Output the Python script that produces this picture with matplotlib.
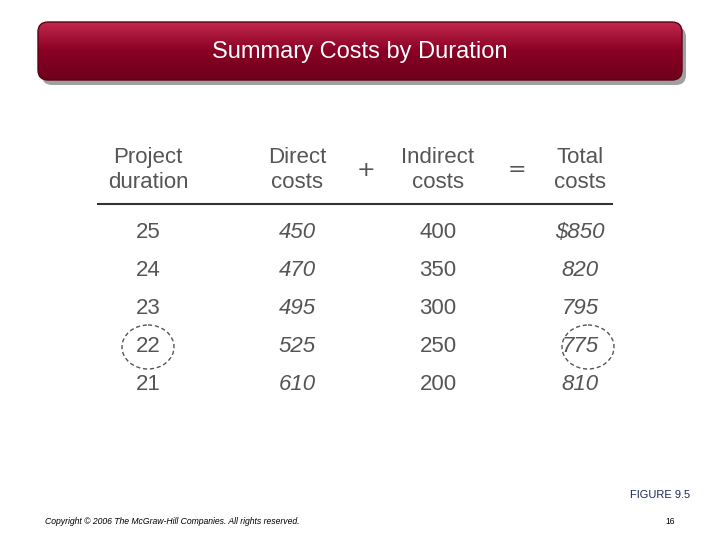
import matplotlib
matplotlib.use("Agg")
import matplotlib.pyplot as plt
from matplotlib.patches import FancyBboxPatch, Ellipse
from matplotlib.colors import LinearSegmentedColormap
import numpy as np

headers = ["Project\nduration", "Direct\ncosts", "Indirect\ncosts", "Total\ncosts"]
durations = [25, 24, 23, 22, 21]
direct = [450, 470, 495, 525, 610]
indirect = [400, 350, 300, 250, 200]
total = ["$850", "820", "795", "775", "810"]
highlight_row = 3

fig = plt.figure(figsize=(7.2, 5.4), dpi=100)
ax = fig.add_axes([0, 0, 1, 1])
ax.set_xlim(0, 720); ax.set_ylim(540, 0); ax.axis("off")

ax.add_patch(FancyBboxPatch((42, 27), 644, 58, boxstyle="round,pad=0,rounding_size=10",
                            fc="#a0a0a0", ec="none", zorder=1))
grad = np.linspace(0, 1, 100).reshape(-1, 1)
cm = LinearSegmentedColormap.from_list("r", ["#c0284a", "#8a0025", "#6e001c"])
banner = FancyBboxPatch((38, 22), 644, 58, boxstyle="round,pad=0,rounding_size=10",
                        fc="none", ec="#5a0016", lw=1, zorder=3)
ax.add_patch(banner)
im = ax.imshow(grad, extent=(38, 682, 80, 22), cmap=cm, aspect="auto", zorder=2)
im.set_clip_path(banner)
ax.text(360, 52, "Summary Costs by Duration", color="white", fontsize=17,
        ha="center", va="center", zorder=4, family="Liberation Sans")

col = "#555555"
fs = 16
xs = [148, 297, 438, 580]
for x, h in zip(xs, headers):
    ax.text(x, 170, h, ha="center", va="center", fontsize=fs, color=col,
            linespacing=1.2, family="Liberation Sans")
ax.text(366, 170, "+", ha="center", va="center", fontsize=fs, color=col)
ax.text(517, 170, "=", ha="center", va="center", fontsize=fs, color=col)
ax.plot([98, 612], [204, 204], color="#333333", lw=1.5)

ys = [233, 271, 309, 347, 385]
for i, y in enumerate(ys):
    ax.text(xs[0], y, str(durations[i]), ha="center", va="center", fontsize=fs, color=col, family="Liberation Sans")
    ax.text(xs[1], y, str(direct[i]), ha="center", va="center", fontsize=fs, color=col, style="italic", family="Liberation Sans")
    ax.text(xs[2], y, str(indirect[i]), ha="center", va="center", fontsize=fs, color=col, family="Liberation Sans")
    ax.text(xs[3], y, total[i], ha="center", va="center", fontsize=fs, color=col, style="italic", family="Liberation Sans")

yh = ys[highlight_row]
ax.add_patch(Ellipse((xs[0], yh), 52, 44, fill=False, ls=(0, (3, 2)), ec=col, lw=1))
ax.add_patch(Ellipse((xs[3] + 8, yh), 52, 44, fill=False, ls=(0, (3, 2)), ec=col, lw=1))

ax.text(690, 495, "FIGURE 9.5", ha="right", va="center", fontsize=8, color="#1a2a5a", family="Liberation Sans")
ax.text(45, 522, "Copyright © 2006 The McGraw-Hill Companies. All rights reserved.", ha="left",
        va="center", fontsize=6.2, style="italic", color="black", family="Liberation Sans")
ax.text(675, 522, "16", ha="right", va="center", fontsize=6.2, color="black", family="Liberation Sans")

fig.savefig("out.png", dpi=100)
